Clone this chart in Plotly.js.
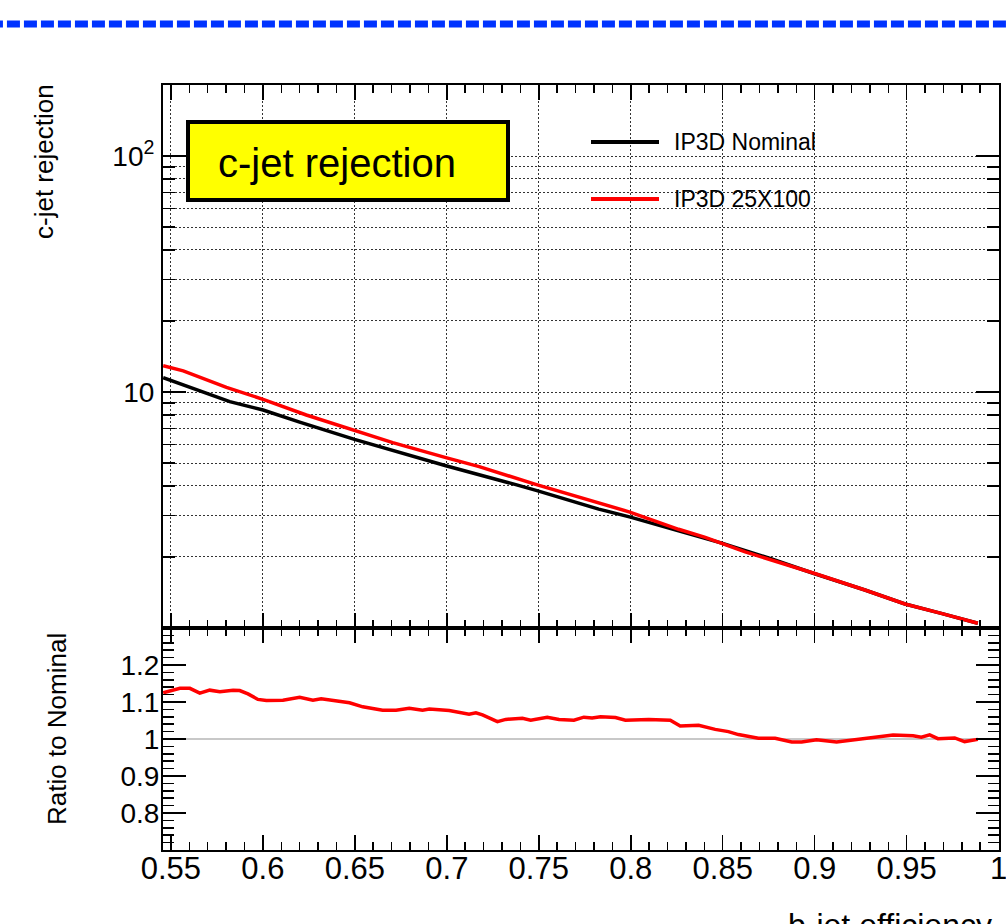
<!DOCTYPE html>
<html>
<head>
<meta charset="utf-8">
<script src="https://cdn.plot.ly/plotly-3.0.1.min.js"></script>
<style>
  html, body { margin: 0; padding: 0; background: #ffffff; }
  #chart { width: 1006px; height: 924px; }
</style>
</head>
<body>
<div id="chart"></div>
<script>
// ---------------- data ----------------
const seriesNames = ["IP3D Nominal", "IP3D 25X100"];

const bEffNominal = [0.5458, 0.5603, 0.5820, 0.6001, 0.6200, 0.6498, 0.6905, 0.6995, 0.7375, 0.7490,
                     0.7826, 0.7998, 0.8260, 0.8495, 0.8766, 0.8992, 0.9273, 0.9491, 0.9688, 0.9887];
const cRejNominal = [11.5, 10.47, 9.1, 8.39, 7.45, 6.30, 5.07, 4.87, 4.05, 3.82,
                     3.19, 2.95, 2.58, 2.29, 1.96, 1.706, 1.449, 1.264, 1.154, 1.047];

const bEff25x100 = [0.5458, 0.5567, 0.5802, 0.6001, 0.6236, 0.6498, 0.6706, 0.6995, 0.7176, 0.7483,
                    0.7826, 0.7995, 0.8260, 0.8405, 0.8622, 0.8992, 0.9273, 0.9491, 0.9688, 0.9887];
const cRej25x100 = [12.92, 12.3, 10.47, 9.31, 7.99, 6.86, 6.10, 5.27, 4.83, 4.06,
                    3.40, 3.10, 2.62, 2.42, 2.10, 1.71, 1.449, 1.264, 1.154, 1.047];

const bEffRatio = [0.5458, 0.5549, 0.5603, 0.5657, 0.5711, 0.5766, 0.5838, 0.5874, 0.5919, 0.5973,
                   0.6019, 0.6109, 0.6200, 0.6272, 0.6317, 0.6416, 0.6471, 0.6543, 0.6651, 0.6724,
                   0.6796, 0.6868, 0.6905, 0.7013, 0.7121, 0.7158, 0.7194, 0.7275, 0.7320, 0.7411,
                   0.7456, 0.7546, 0.7610, 0.7691, 0.7745, 0.7790, 0.7836, 0.7917, 0.7971, 0.8098,
                   0.8215, 0.8269, 0.8369, 0.8459, 0.8531, 0.8585, 0.8694, 0.8785, 0.8875, 0.8929,
                   0.9010, 0.9119, 0.9200, 0.9309, 0.9426, 0.9535, 0.9580, 0.9625, 0.9670, 0.9761,
                   0.9815, 0.9887];
const ratioToNominal = [1.125, 1.137, 1.137, 1.124, 1.132, 1.128, 1.132, 1.131, 1.122, 1.107,
                        1.104, 1.105, 1.113, 1.105, 1.109, 1.101, 1.098, 1.087, 1.078, 1.078,
                        1.083, 1.078, 1.081, 1.077, 1.067, 1.071, 1.065, 1.047, 1.053, 1.056,
                        1.051, 1.059, 1.053, 1.051, 1.059, 1.057, 1.060, 1.058, 1.051, 1.053,
                        1.051, 1.035, 1.037, 1.026, 1.020, 1.012, 1.002, 1.002, 0.992, 0.992,
                        0.998, 0.992, 0.997, 1.005, 1.011, 1.009, 1.005, 1.011, 1.001, 1.003,
                        0.993, 0.999];

const xTickVals = [0.55, 0.6, 0.65, 0.7, 0.75, 0.8, 0.85, 0.9, 0.95, 1];
const xTickText = ["0.55", "0.6", "0.65", "0.7", "0.75", "0.8", "0.85", "0.9", "0.95", "1"];
const topTickVals = [10, 100];
const topTickText = ["10", "10<sup>2</sup>"];
const ratioTickVals = [0.8, 0.9, 1, 1.1, 1.2];
const ratioTickText = ["0.8", "0.9", "1", "1.1", "1.2"];
const referenceRatio = 1;

// ---------------- layout helpers ----------------
const W = 1006, H = 924;
const px = v => v / W;          // pixel -> paper x
const py = v => 1 - v / H;      // pixel -> paper y
const FONT = "Liberation Sans, Arial, Helvetica, sans-serif";

const minorLog = [];
[1, 10].forEach(d => { for (let k = 2; k <= 9; k++) minorLog.push(k * d); });

const xDomain = [px(163), px(999)];
const xRange = [0.5457, 1.0002];
const gridDash = "2px,2px";
const gridColor = "#333333";

const traces = [
  { x: bEffNominal, y: cRejNominal, type: "scatter", mode: "lines", name: seriesNames[0],
    line: { color: "#000000", width: 3.5 }, xaxis: "x", yaxis: "y", showlegend: false },
  { x: bEff25x100, y: cRej25x100, type: "scatter", mode: "lines", name: seriesNames[1],
    line: { color: "#ff0000", width: 3.5 }, xaxis: "x", yaxis: "y", showlegend: false },
  { x: bEffRatio, y: ratioToNominal, type: "scatter", mode: "lines", name: seriesNames[1] + " / " + seriesNames[0],
    line: { color: "#ff0000", width: 3.5 }, xaxis: "x2", yaxis: "y2", showlegend: false }
];

const layout = {
  width: W, height: H,
  margin: { l: 0, r: 0, t: 0, b: 0, pad: 0 },
  paper_bgcolor: "#ffffff", plot_bgcolor: "#ffffff",
  font: { family: FONT, color: "#000000" },
  showlegend: false,
  xaxis: {
    domain: xDomain, range: xRange, anchor: "y", automargin: false,
    tickmode: "array", tickvals: xTickVals, ticks: "inside", ticklen: 15, tickwidth: 1.5, tickcolor: "#000",
    showticklabels: false,
    showline: true, linewidth: 2, linecolor: "#000", mirror: "allticks",
    showgrid: true, gridcolor: gridColor, griddash: gridDash, gridwidth: 1,
    zeroline: false,
    minor: { ticks: "inside", ticklen: 8, tickwidth: 1.5, tickcolor: "#000", tick0: 0.55, dtick: 0.01, showgrid: false }
  },
  yaxis: {
    domain: [py(628), py(85)], type: "log", range: [0, Math.log10(200)], anchor: "x", automargin: false,
    tickmode: "array", tickvals: topTickVals, ticktext: topTickText,
    ticks: "inside", ticklen: 23, tickwidth: 1.5, tickcolor: "#000",
    tickfont: { size: 28, family: FONT }, ticklabelstandoff: 1,
    showline: true, linewidth: 2, linecolor: "#000", mirror: "allticks",
    showgrid: true, gridcolor: gridColor, griddash: gridDash, gridwidth: 1,
    zeroline: false,
    minor: { tickmode: "array", tickvals: minorLog, ticks: "inside", ticklen: 12, tickwidth: 1.5, tickcolor: "#000",
             showgrid: true, gridcolor: gridColor, griddash: gridDash, gridwidth: 1 }
  },
  xaxis2: {
    domain: xDomain, range: xRange, anchor: "y2", automargin: false,
    tickmode: "array", tickvals: xTickVals, ticktext: xTickText,
    ticks: "inside", ticklen: 15, tickwidth: 1.5, tickcolor: "#000",
    tickfont: { size: 31, family: FONT }, ticklabelstandoff: -10, ticklabeloverflow: "allow",
    showline: true, linewidth: 2, linecolor: "#000", mirror: "allticks",
    showgrid: false, zeroline: false,
    minor: { ticks: "inside", ticklen: 8, tickwidth: 1.5, tickcolor: "#000", tick0: 0.55, dtick: 0.01, showgrid: false }
  },
  yaxis2: {
    domain: [py(850), py(628)], range: [0.7, 1.3], anchor: "x2", automargin: false,
    tickmode: "array", tickvals: ratioTickVals, ticktext: ratioTickText,
    ticks: "inside", ticklen: 23, tickwidth: 1.5, tickcolor: "#000",
    tickfont: { size: 28, family: FONT }, ticklabelstandoff: -4,
    showline: true, linewidth: 2, linecolor: "#000", mirror: "allticks",
    showgrid: false, zeroline: false,
    minor: { ticks: "inside", ticklen: 11, tickwidth: 1.5, tickcolor: "#000", tick0: 0.7, dtick: 0.02, showgrid: false }
  },
  shapes: [
    // blue dashed line across the top
    { type: "line", xref: "paper", yref: "paper", x0: -0.01, x1: 1.01, y0: py(24), y1: py(24),
      line: { color: "#0033ff", width: 7, dash: "13px,4px" }, layer: "above" },
    // reference line at ratio = 1
    { type: "line", xref: "x2 domain", yref: "y2", x0: 0, x1: 0.99, y0: referenceRatio, y1: referenceRatio,
      line: { color: "#c8c8c8", width: 2 }, layer: "below" },
    // yellow label box
    { type: "rect", xref: "paper", yref: "paper", x0: px(188), x1: px(508), y0: py(200), y1: py(122),
      fillcolor: "#ffff00", line: { color: "#000", width: 4 }, layer: "above" },
    // legend samples
    { type: "line", xref: "paper", yref: "paper", x0: px(591), x1: px(659), y0: py(142), y1: py(142),
      line: { color: "#000000", width: 4 }, layer: "above" },
    { type: "line", xref: "paper", yref: "paper", x0: px(591), x1: px(659), y0: py(199), y1: py(199),
      line: { color: "#ff0000", width: 4 }, layer: "above" }
  ],
  annotations: [
    { text: "c-jet rejection", xref: "paper", yref: "paper", x: px(216), y: py(163),
      xanchor: "left", yanchor: "middle", showarrow: false, font: { size: 40, family: FONT, color: "#000" } },
    { text: seriesNames[0], xref: "paper", yref: "paper", x: px(672), y: py(142),
      xanchor: "left", yanchor: "middle", showarrow: false, font: { size: 23, family: FONT, color: "#000" } },
    { text: seriesNames[1], xref: "paper", yref: "paper", x: px(672), y: py(199),
      xanchor: "left", yanchor: "middle", showarrow: false, font: { size: 23, family: FONT, color: "#000" } },
    { text: "c-jet rejection", xref: "paper", yref: "paper", x: px(44), y: py(162), textangle: -90,
      xanchor: "center", yanchor: "middle", showarrow: false, font: { size: 26, family: FONT, color: "#000" } },
    { text: "Ratio to Nominal", xref: "paper", yref: "paper", x: px(57), y: py(729), textangle: -90,
      xanchor: "center", yanchor: "middle", showarrow: false, font: { size: 26, family: FONT, color: "#000" } },
    { text: "b-jet efficiency", xref: "paper", yref: "paper", x: px(786), y: py(905),
      xanchor: "left", yanchor: "top", showarrow: false, font: { size: 32, family: FONT, color: "#000" } }
  ]
};

Plotly.newPlot("chart", traces, layout, { staticPlot: true, displayModeBar: false });
</script>
</body>
</html>
